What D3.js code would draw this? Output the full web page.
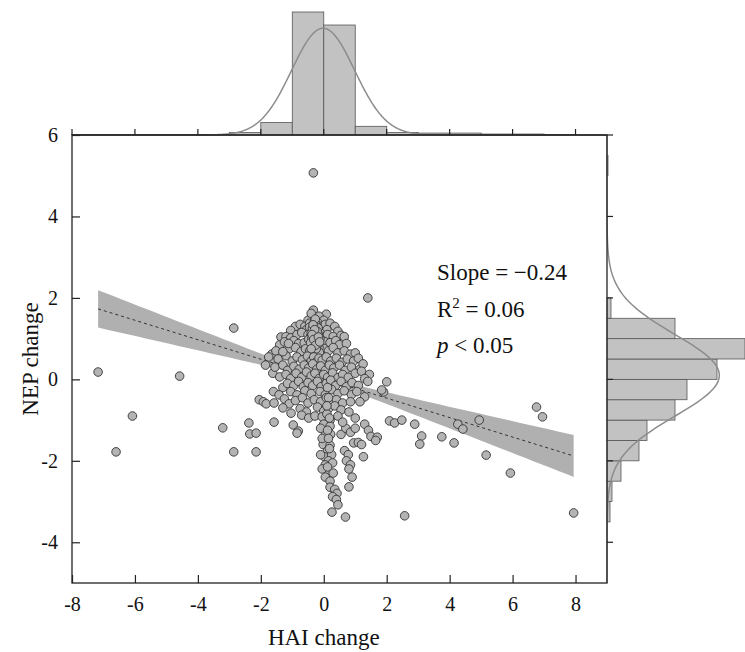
<!DOCTYPE html>
<html>
<head>
<meta charset="utf-8">
<script src="https://cdn.jsdelivr.net/npm/d3@7"></script>
<style>
  body { margin: 0; background: #fff; }
  svg { display: block; }
</style>
</head>
<body>
<div id="chart"></div>
<script>
var width = 745, height = 652;
var margin = {left: 72, right: 138, top: 135, bottom: 69};

// HAI change (x) / NEP change (y)
var points = [
  // outliers
  [-7.17, 0.18], [-6.6, -1.78], [-6.08, -0.9], [-4.58, 0.08], [-3.21, -1.19], [-2.86, 1.26], [-2.86, -1.78],
  [-2.38, -1.07], [-2.35, -1.34], [-2.15, -1.32], [-2.15, -1.78], [-0.33, 5.07], [1.4, 2.0],
  [2.0, -0.06], [1.9, -0.31], [2.09, -1.02], [2.25, -1.07], [2.48, -1.0], [2.89, -1.1], [3.11, -1.39],
  [3.05, -1.59], [3.75, -1.41], [4.14, -1.56], [4.26, -1.1], [4.42, -1.22], [4.94, -1.0], [5.16, -1.86],
  [5.93, -2.3], [6.76, -0.68], [6.95, -0.92], [2.57, -3.35], [7.94, -3.28],
  // top of core
  [-0.33, 1.7], [0.08, 1.6], [-0.3, 1.5], [-0.15, 1.55], [-0.5, 1.45], [0.0, 1.45], [-0.4, 1.62],
  [-0.9, 1.3], [-0.75, 1.35], [-0.6, 1.3], [-0.45, 1.38], [-0.3, 1.32], [-0.2, 1.4], [-0.1, 1.3], [0.05, 1.35],
  [0.2, 1.38], [0.35, 1.3], [-1.05, 1.2], [-0.55, 1.22], [-0.35, 1.2], [-0.25, 1.25], [-0.15, 1.2], [0.1, 1.22], [0.45, 1.18],
  [-1.36, 1.04], [-1.2, 1.05], [-1.05, 1.02], [-0.85, 1.1], [-0.7, 1.15], [-0.5, 1.1], [-0.42, 1.05], [-0.33, 1.12],
  [-0.27, 1.0], [-0.2, 1.08], [-0.12, 1.15], [-0.05, 1.02], [0.12, 1.1], [0.3, 1.05], [0.55, 1.08], [0.65, 1.05],
  [-1.4, 0.85], [-1.25, 0.92], [-0.95, 0.95], [-0.8, 0.88], [-0.62, 0.9], [-0.48, 0.98], [-0.38, 0.85], [-0.3, 0.92],
  [-0.22, 0.82], [-0.18, 0.95], [-0.08, 0.88], [0.02, 0.93], [0.2, 0.9], [0.38, 0.95], [0.5, 0.85], [0.72, 0.88],
  [-1.65, 0.62], [-1.52, 0.7], [-1.1, 0.75], [-0.9, 0.78], [-0.72, 0.68], [-0.58, 0.75], [-0.45, 0.7], [-0.35, 0.78],
  [-0.28, 0.65], [-0.2, 0.72], [-0.1, 0.68], [0.0, 0.76], [0.15, 0.7], [0.3, 0.78], [0.45, 0.65], [0.65, 0.7], [0.85, 0.62], [1.0, 0.65],
  // dense streak
  [-0.45, 1.28], [-0.4, 1.15], [-0.38, 1.0], [-0.35, 0.62], [-0.3, 1.42], [-0.28, 1.18], [-0.25, 0.9], [-0.22, 1.3],
  [-0.2, 0.58], [-0.18, 1.12], [-0.15, 0.78], [-0.12, 1.0], [-0.3, 0.8], [-0.42, 0.9], [-0.24, 1.05], [-0.33, 0.7],
  [-0.16, 0.88], [-0.26, 1.36], [-0.36, 1.25], [-0.2, 0.62], [-0.27, 1.48], [-0.18, 1.26], [-0.31, 1.08], [-0.23, 0.96],
  [-0.38, 0.55], [-0.14, 0.66], [-0.29, 0.48], [-0.19, 0.4], [-0.34, 1.34], [-0.21, 1.18], [-0.29, 1.22], [-0.37, 1.1],
  [-0.24, 0.75], [-0.32, 0.98], [-0.17, 1.04], [-0.26, 0.84], [-0.4, 0.75], [-0.13, 0.92],
  // middle
  [-1.75, 0.55], [-1.45, 0.5], [-1.2, 0.58], [-1.0, 0.45], [-0.85, 0.55], [-0.68, 0.48], [-0.52, 0.57], [-0.4, 0.45],
  [-0.32, 0.55], [-0.25, 0.42], [-0.15, 0.52], [-0.05, 0.47], [0.08, 0.55], [0.22, 0.45], [0.4, 0.52], [0.58, 0.42],
  [0.75, 0.5], [0.95, 0.45], [1.1, 0.52], [-1.85, 0.35], [-1.62, 0.15], [-1.12, 0.88], [-1.3, 0.68],
  [-1.55, 0.3], [-1.3, 0.35], [-1.15, 0.22], [-0.95, 0.32], [-0.78, 0.25], [-0.62, 0.35], [-0.48, 0.28], [-0.35, 0.38],
  [-0.22, 0.25], [-0.1, 0.33], [0.05, 0.22], [0.18, 0.35], [0.32, 0.28], [0.5, 0.35], [0.68, 0.22], [0.88, 0.3], [1.15, 0.25], [1.25, 0.38],
  [-1.4, 0.06], [-1.2, 0.12], [-1.05, 0.02], [-0.88, 0.15], [-0.7, 0.05], [-0.55, 0.18], [-0.4, 0.08], [-0.28, 0.15],
  [-0.15, 0.02], [0.0, 0.12], [0.12, 0.05], [0.28, 0.16], [0.45, 0.04], [0.6, 0.12], [0.78, 0.05], [1.0, 0.15],
  [1.2, 0.2], [1.45, 0.12], [1.3, 0.02],
  [-1.3, -0.2], [-1.15, -0.1], [-0.95, -0.15], [-0.8, -0.05], [-0.65, -0.18], [-0.5, -0.08], [-0.35, -0.15], [-0.2, -0.05],
  [-0.08, -0.18], [0.08, -0.1], [0.22, -0.02], [0.38, -0.15], [0.55, -0.05], [0.72, -0.18], [0.9, -0.08], [1.1, -0.15], [1.4, -0.05],
  [-1.6, -0.3], [-1.42, -0.38], [-1.05, -0.3], [-0.85, -0.38], [-0.6, -0.28], [-0.4, -0.35], [-0.12, -0.3], [0.05, -0.38],
  [0.25, -0.25], [0.45, -0.35], [0.65, -0.28], [0.88, -0.38], [1.05, -0.3], [1.3, -0.43], [1.84, -0.26],
  [-2.05, -0.5], [-1.92, -0.55], [-1.83, -0.6], [-1.58, -0.58], [-1.25, -0.48], [-1.1, -0.6], [-0.9, -0.52], [-0.68, -0.45],
  [-0.5, -0.58], [-0.3, -0.5], [-0.1, -0.55], [0.08, -0.45], [0.2, -0.6], [0.4, -0.5], [0.6, -0.58], [0.85, -0.55], [1.15, -0.55],
  [-1.3, -0.7], [-1.04, -0.83], [-0.75, -0.72], [-0.55, -0.8], [-0.2, -0.68], [0.0, -0.78], [0.15, -0.72], [0.35, -0.65],
  [0.55, -0.75], [0.8, -0.8],
  [-0.7, -0.88], [-0.48, -0.95], [-0.28, -0.9], [-0.05, -0.92], [0.1, -0.85], [0.2, -1.0], [0.45, -0.9], [1.0, -0.95],
  [-1.58, -1.05], [-0.97, -1.12], [-0.81, -1.27], [-0.85, -1.32],
  // tail
  [0.0, -1.1], [0.2, -1.15], [0.05, -1.3], [0.22, -1.35], [0.1, -1.5], [-0.02, -1.6], [0.2, -1.62], [0.12, -1.75],
  [0.02, -1.9], [0.25, -1.85], [0.15, -2.0], [0.05, -2.1], [0.28, -2.05], [0.1, -2.25], [0.3, -2.3], [0.05, -2.4], [0.2, -2.5],
  [-0.1, -1.2], [-0.05, -1.45], [-0.1, -1.85], [-0.05, -2.2],
  [0.12, -0.2], [0.15, -0.45], [0.1, -0.65], [0.18, -0.95], [0.12, -1.25], [0.15, -1.45], [0.18, -1.7], [0.12, -2.15],
  [0.2, -2.65], [0.35, -2.7], [0.42, -2.8], [0.28, -2.88], [0.4, -2.95], [0.45, -3.08], [0.26, -3.26], [0.69, -3.38],
  [0.8, -2.64], [0.9, -2.4],
  // right lobe
  [0.66, -1.75], [0.78, -1.85], [0.72, -2.0], [0.85, -2.1], [0.8, -2.2], [0.95, -1.56], [1.1, -1.55], [1.2, -1.6],
  [1.3, -1.1], [1.42, -1.25], [1.5, -1.4], [1.7, -1.42], [1.65, -1.5], [1.26, -1.9], [0.55, -1.35], [0.7, -1.2],
  [0.85, -1.3], [0.6, -1.05], [1.0, -1.2]
];

// marginal histograms (bin lower edges + counts)
var haiBinLo = [-8, -7, -6, -5, -4, -3, -2, -1, 0, 1, 2, 3, 4, 5, 6, 7, 8];
var haiCounts = [1, 1, 1, 1, 1, 5, 26, 255, 228, 18, 5, 4, 4, 2, 2, 1, 0];
var haiBinWidth = 1;
var nepBinLo = [-5, -4.5, -4, -3.5, -3, -2.5, -2, -1.5, -1, -0.5, 0, 0.5, 1, 1.5, 2, 2.5, 3, 3.5, 4, 4.5, 5, 5.5];
var nepCounts = [0, 0, 0, 3, 5, 14, 32, 40, 68, 80, 110, 138, 68, 4, 0, 0, 0, 0, 0, 0, 1, 0];
var nepBinWidth = 0.5;

// normal fits of the margins
var haiFit = {mean: -0.02, sd: 1.0};
var nepFit = {mean: 0.1, sd: 1.0};

// regression line and its confidence band
var fit = {slope: -0.239, intercept: 0.017, se0: 0.06, seSlope: 0.064, xMean: -0.05};
var statLines = ['Slope = \u22120.24', 'R', ' = 0.06', 'p', ' < 0.05'];

var xTicks = [-8, -6, -4, -2, 0, 2, 4, 6, 8];
var yTicks = [-4, -2, 0, 2, 4, 6];

var serif = "'Liberation Serif', 'Times New Roman', serif";

var svg = d3.select('#chart').append('svg').attr('width', width).attr('height', height)
    .style('font-family', serif);

var x = d3.scaleLinear().domain([-8, 9]).range([margin.left, width - margin.right]);
var y = d3.scaleLinear().domain([-5, 6]).range([height - margin.bottom, margin.top]);
var topH = d3.scaleLinear().domain([0, 255]).range([0, 123]);
var rightW = d3.scaleLinear().domain([0, 138]).range([0, 138]);

function normPdf(v, m, s) {
    return Math.exp(-(v - m) * (v - m) / (2 * s * s)) / (s * Math.sqrt(2 * Math.PI));
}

function drawTopHist() {
    var g = svg.append('g');
    var n = d3.sum(haiCounts);
    g.selectAll('rect').data(haiCounts).enter().append('rect')
        .attr('x', function (d, i) { return x(haiBinLo[i]); })
        .attr('width', function (d, i) { return x(haiBinLo[i] + haiBinWidth) - x(haiBinLo[i]); })
        .attr('y', function (d) { return margin.top - topH(d); })
        .attr('height', function (d) { return topH(d); })
        .style('fill', '#c2c2c2').style('stroke', '#555').style('stroke-width', 0.8);
    var curve = d3.range(-8, 9.001, 0.05).map(function (v) {
        return [x(v), margin.top - topH(n * haiBinWidth * normPdf(v, haiFit.mean, haiFit.sd))];
    });
    g.append('path').attr('d', d3.line()(curve)).style('fill', 'none').style('stroke', '#8c8c8c').style('stroke-width', 1.5);
    g.append('line').attr('x1', x(-8)).attr('x2', x(9)).attr('y1', margin.top).attr('y2', margin.top)
        .style('stroke', '#222').style('stroke-width', 1.2);
    g.selectAll('.tt').data(xTicks).enter().append('line')
        .attr('x1', x).attr('x2', x).attr('y1', margin.top).attr('y2', margin.top - 6)
        .style('stroke', '#222').style('stroke-width', 1.2);
}

function drawRightHist() {
    var g = svg.append('g');
    var n = d3.sum(nepCounts);
    var x0 = width - margin.right;
    g.selectAll('rect').data(nepCounts).enter().append('rect')
        .attr('y', function (d, i) { return y(nepBinLo[i] + nepBinWidth); })
        .attr('height', function (d, i) { return y(nepBinLo[i]) - y(nepBinLo[i] + nepBinWidth); })
        .attr('x', x0)
        .attr('width', function (d) { return rightW(d); })
        .style('fill', '#c2c2c2').style('stroke', '#555').style('stroke-width', 0.8);
    var curve = d3.range(-5, 6.001, 0.05).map(function (v) {
        return [x0 + rightW(n * nepBinWidth * normPdf(v, nepFit.mean, nepFit.sd)), y(v)];
    });
    g.append('path').attr('d', d3.line()(curve)).style('fill', 'none').style('stroke', '#8c8c8c').style('stroke-width', 1.5);
    g.selectAll('.rt').data(yTicks).enter().append('line')
        .attr('x1', x0).attr('x2', x0 + 6).attr('y1', y).attr('y2', y)
        .style('stroke', '#222').style('stroke-width', 1.2);
}

function drawMain() {
    var g = svg.append('g');
    var xs = d3.extent(points, function (d) { return d[0]; });
    var grid = d3.range(xs[0], xs[1] + 0.0001, (xs[1] - xs[0]) / 60);
    function hw(v) { return Math.sqrt(fit.se0 * fit.se0 + fit.seSlope * fit.seSlope * (v - fit.xMean) * (v - fit.xMean)); }
    function yhat(v) { return fit.intercept + fit.slope * v; }
    var band = d3.area()
        .x(function (v) { return x(v); })
        .y0(function (v) { return y(yhat(v) - hw(v)); })
        .y1(function (v) { return y(yhat(v) + hw(v)); });
    g.append('path').attr('d', band(grid)).style('fill', '#b0b0b0').style('stroke', 'none');
    g.append('line')
        .attr('x1', x(xs[0])).attr('y1', y(yhat(xs[0])))
        .attr('x2', x(xs[1])).attr('y2', y(yhat(xs[1])))
        .style('stroke', '#333').style('stroke-width', 1).style('stroke-dasharray', '3,3');

    g.selectAll('circle').data(points).enter().append('circle')
        .attr('cx', function (d) { return x(d[0]); })
        .attr('cy', function (d) { return y(d[1]); })
        .attr('r', 4.3)
        .style('fill', '#b4b4b4').style('stroke', '#333').style('stroke-width', 0.9);

    // frame
    g.append('rect').attr('x', x(-8)).attr('y', y(6)).attr('width', x(9) - x(-8)).attr('height', y(-5) - y(6))
        .style('fill', 'none').style('stroke', '#222').style('stroke-width', 1.3);

    var fmt = function (d) { return String(d); };
    var xAxis = d3.axisBottom(x).tickValues(xTicks).tickFormat(fmt).tickSizeInner(-8).tickSizeOuter(0).tickPadding(14);
    var ax = svg.append('g').attr('transform', 'translate(0,' + y(-5) + ')').call(xAxis);
    var yAxis = d3.axisLeft(y).tickValues(yTicks).tickFormat(fmt).tickSizeInner(-8).tickSizeOuter(0).tickPadding(14);
    var ay = svg.append('g').attr('transform', 'translate(' + x(-8) + ',0)').call(yAxis);
    [ax, ay].forEach(function (a) {
        a.select('.domain').remove();
        a.selectAll('line').style('stroke', '#222').style('stroke-width', 1.2);
        a.selectAll('text').style('font-family', serif).style('font-size', '20px').style('fill', '#111');
    });

    svg.append('text').attr('x', x(0)).attr('y', 645).attr('text-anchor', 'middle')
        .style('font-size', '23px').style('fill', '#111').text('HAI change');
    svg.append('text').attr('transform', 'translate(38,' + y(0.5) + ') rotate(-90)').attr('text-anchor', 'middle')
        .style('font-size', '23px').style('fill', '#111').text('NEP change');

    var st = svg.append('g').style('font-size', '23px').style('fill', '#111');
    st.append('text').attr('x', 437).attr('y', 280).text(statLines[0]);
    var r2 = st.append('text').attr('x', 437).attr('y', 317);
    r2.append('tspan').text(statLines[1]);
    r2.append('tspan').attr('dy', -9).style('font-size', '15px').text('2');
    r2.append('tspan').attr('dy', 9).text(statLines[2]);
    var pp = st.append('text').attr('x', 437).attr('y', 353);
    pp.append('tspan').style('font-style', 'italic').text(statLines[3]);
    pp.append('tspan').text(statLines[4]);
}

drawTopHist();
drawRightHist();
drawMain();
</script>
</body>
</html>
